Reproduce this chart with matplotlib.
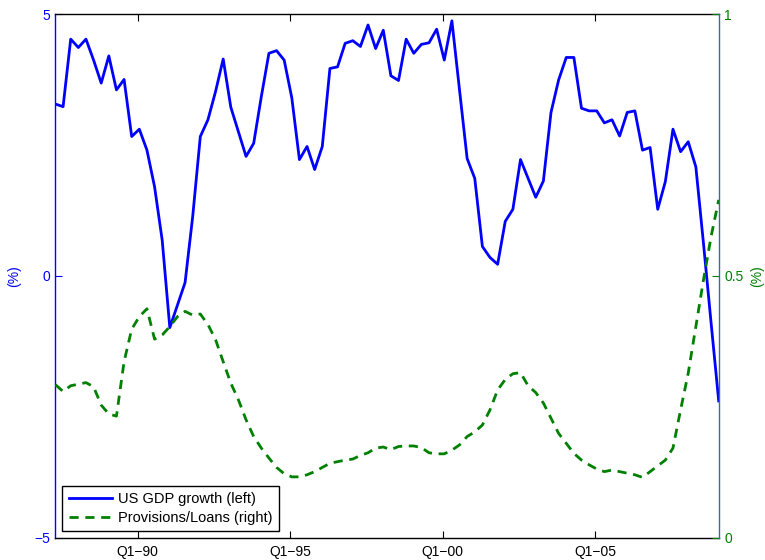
import numpy as np
import matplotlib.pyplot as plt

plt.rcParams['font.family'] = ['Liberation Sans', 'DejaVu Sans']

# quarterly data, Q2-87 .. Q1-09
gdp = [3.28, 3.23, 4.52, 4.36, 4.52, 4.12, 3.68, 4.20, 3.55, 3.75,
       2.66, 2.80, 2.40, 1.70, 0.68, -0.99, -0.56, -0.13, 1.13, 2.66,
       2.98, 3.52, 4.14, 3.22, 2.75, 2.28, 2.53, 3.42, 4.25, 4.30,
       4.12, 3.40, 2.22, 2.47, 2.03, 2.47, 3.96, 3.99, 4.44, 4.49,
       4.38, 4.79, 4.34, 4.69, 3.82, 3.73, 4.52, 4.25, 4.42, 4.45,
       4.71, 4.12, 4.87, 3.55, 2.24, 1.86, 0.56, 0.35, 0.22, 1.04,
       1.27, 2.22, 1.86, 1.50, 1.81, 3.12, 3.74, 4.17, 4.17, 3.20,
       3.15, 3.15, 2.92, 2.98, 2.67, 3.12, 3.15, 2.40, 2.45, 1.27,
       1.80, 2.80, 2.37, 2.56, 2.08, 0.62, -0.90, -2.39]

prov = [0.292, 0.279, 0.290, 0.293, 0.296, 0.288, 0.253, 0.236, 0.232, 0.336,
        0.398, 0.422, 0.437, 0.379, 0.387, 0.403, 0.422, 0.432, 0.425, 0.427,
        0.407, 0.378, 0.336, 0.295, 0.263, 0.225, 0.193, 0.171, 0.152, 0.134,
        0.122, 0.116, 0.116, 0.120, 0.126, 0.134, 0.142, 0.145, 0.148, 0.150,
        0.157, 0.162, 0.171, 0.173, 0.168, 0.174, 0.175, 0.175, 0.172, 0.162,
        0.160, 0.160, 0.167, 0.177, 0.193, 0.202, 0.215, 0.244, 0.282, 0.302,
        0.313, 0.315, 0.290, 0.277, 0.257, 0.228, 0.199, 0.180, 0.161, 0.148,
        0.139, 0.131, 0.126, 0.129, 0.126, 0.123, 0.120, 0.115, 0.126, 0.137,
        0.148, 0.171, 0.244, 0.314, 0.403, 0.492, 0.575, 0.645]

tick_labels = ['Q1\u221290', 'Q1\u221295', 'Q1\u221200', 'Q1\u221205']
tick_pos = [10.8, 30.8, 50.8, 70.8]

blue = (0, 0, 1)
green = (0, 0.5, 0)

x = np.arange(len(gdp))

fig = plt.figure(figsize=(7.65, 5.6), dpi=100)
ax1 = fig.add_axes([0.0725, 0.040, 0.867, 0.935])
ax2 = ax1.twinx()

l1, = ax1.plot(x, gdp, color=blue, lw=2.0, label='US GDP growth (left)')
l2, = ax2.plot(x, prov, color=green, lw=2.0, dashes=(3.3, 2.4),
               label='Provisions/Loans (right)')

ax1.set_xlim(0, len(gdp) - 1)
ax1.set_ylim(-5, 5)
ax2.set_ylim(0, 1)

ax1.set_xticks(tick_pos)
ax1.set_xticklabels(tick_labels, fontsize=10)
ax1.set_yticks([-5, 0, 5])
ax1.set_yticklabels(['\u22125', '0', '5'], fontsize=10)
ax2.set_yticks([0, 0.5, 1])
ax2.set_yticklabels(['0', '0.5', '1'], fontsize=10)

ax1.tick_params(axis='x', direction='in', top=True, length=5, width=0.8, pad=5)
ax1.tick_params(axis='y', direction='in', colors=blue, length=5, width=0.8, pad=4)
ax2.tick_params(axis='y', direction='in', colors=green, length=5, width=0.8, pad=4)

ax1.spines['left'].set_color(blue)
ax1.spines['right'].set_visible(False)
ax2.spines['left'].set_visible(False)
ax2.spines['top'].set_visible(False)
ax2.spines['bottom'].set_visible(False)
ax2.spines['right'].set_color('#3f6a95')
for s in ['top', 'bottom', 'left']:
    ax1.spines[s].set_linewidth(1.0)
ax2.spines['right'].set_linewidth(1.0)

ax1.set_ylabel('(%)', color=blue, fontsize=10, labelpad=9)
ax2.set_ylabel('(%)', color=green, fontsize=10, labelpad=5)

leg = ax2.legend([l1, l2], [l1.get_label(), l2.get_label()], loc='lower left',
                 bbox_to_anchor=(0.01, 0.012), fontsize=10.5, frameon=True,
                 fancybox=False, edgecolor='black', framealpha=1,
                 handlelength=3.0, handletextpad=0.4, labelspacing=0.3,
                 borderpad=0.45, borderaxespad=0)
leg.get_frame().set_linewidth(1.0)

plt.savefig('out.png', dpi=100)
